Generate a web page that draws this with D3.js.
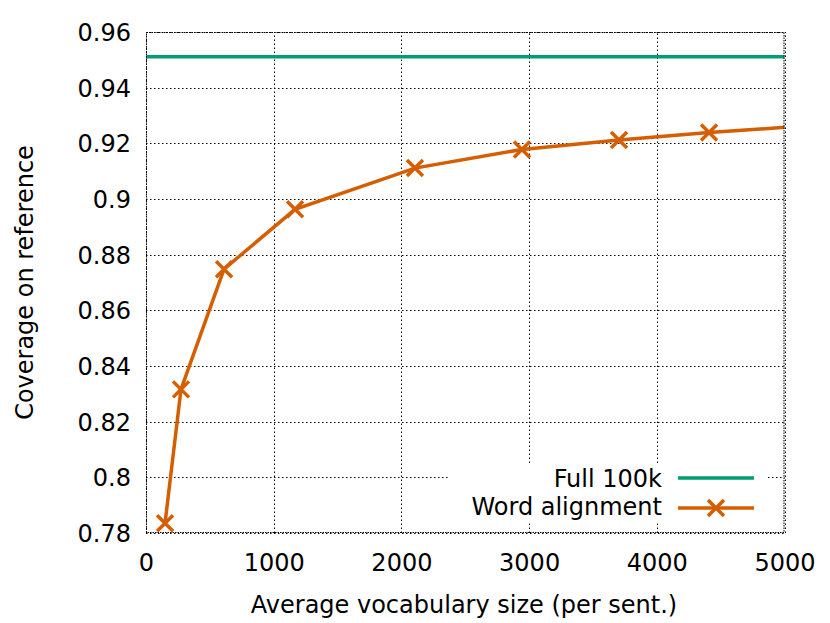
<!DOCTYPE html>
<html><head><meta charset="utf-8">
<script src="https://cdn.jsdelivr.net/npm/d3@7"></script>
<style>body{margin:0;background:#fff}svg{display:block}text{font-family:"DejaVu Sans",sans-serif;fill:#000}</style>
</head><body><div id="chart"></div>
<script>
const vocabSize = [149, 274, 611, 1167, 2106, 2944, 3704, 4409, 5150];
const coverage  = [0.7835, 0.8316, 0.8748, 0.8963, 0.9111, 0.9178, 0.9212, 0.9239, 0.9262];
const fullCoverage = 0.9511;
const xTicks = [0, 1000, 2000, 3000, 4000, 5000];
const yTicks = [0.78, 0.80, 0.82, 0.84, 0.86, 0.88, 0.90, 0.92, 0.94, 0.96];
const seriesNames = ["Full 100k", "Word alignment"];
const colors = ["#009e73", "#d55e00"];

const W = 830, H = 623, FS = 24, LW = 3.5, MK = 8;
const m = {l: 146, r: 830-784.5, t: 32, b: 623-533};
const svg = d3.select("#chart").append("svg").attr("width", W).attr("height", H);
const x = d3.scaleLinear().domain([0, 5000]).range([m.l, W - m.r]);
const y = d3.scaleLinear().domain([0.78, 0.96]).range([H - m.b, m.t]);

svg.append("defs").append("clipPath").attr("id","clip").append("rect")
  .attr("x", x(0)).attr("y", y(0.96)).attr("width", x(5000)-x(0)).attr("height", y(0.78)-y(0.96));

const grid = svg.append("g").attr("stroke","#000").attr("stroke-width",1).attr("stroke-dasharray","1.5,2.5");
const lb = {x0: 450, x1: 768, y0: 463, y1: 522};
xTicks.forEach(t => {
  const xx = Math.round(x(t)) + 0.5;
  if (xx > lb.x0 && xx < lb.x1) {
    grid.append("line").attr("x1",xx).attr("x2",xx).attr("y1",y(0.78)).attr("y2",lb.y1);
    grid.append("line").attr("x1",xx).attr("x2",xx).attr("y1",lb.y0).attr("y2",y(0.96));
  } else grid.append("line").attr("x1",xx).attr("x2",xx).attr("y1",y(0.78)).attr("y2",y(0.96));
});
yTicks.forEach(t => {
  const yy = Math.round(y(t)) + 0.5;
  if (yy > lb.y0 && yy < lb.y1) {
    grid.append("line").attr("x1",x(0)).attr("x2",lb.x0).attr("y1",yy).attr("y2",yy);
    grid.append("line").attr("x1",lb.x1).attr("x2",x(5000)).attr("y1",yy).attr("y2",yy);
  } else grid.append("line").attr("x1",x(0)).attr("x2",x(5000)).attr("y1",yy).attr("y2",yy);
});

// axes
const xAxis = svg.append("g").attr("transform",`translate(0,${y(0.78)})`)
  .call(d3.axisBottom(x).tickValues(xTicks).tickSize(0).tickPadding(0).tickFormat(d3.format("d")));
xAxis.selectAll("text").attr("y", 37.5).attr("dy", null);
const yAxis = svg.append("g").attr("transform",`translate(${x(0)},0)`)
  .call(d3.axisLeft(y).tickValues(yTicks).tickSize(0).tickPadding(15).tickFormat(d => d3.format("")(+d.toFixed(2))));
yAxis.selectAll("text").attr("dy","0.35em");
[xAxis, yAxis].forEach(a => { a.select(".domain").remove(); a.selectAll("text").attr("font-size",FS).attr("font-family","DejaVu Sans"); });

// full 100k line
svg.append("line").attr("x1",x(0)).attr("x2",x(5000)).attr("y1",y(fullCoverage)).attr("y2",y(fullCoverage))
  .attr("stroke",colors[0]).attr("stroke-width",LW);

// word alignment
const pts = vocabSize.map((v,i)=>[v, coverage[i]]);
const g = svg.append("g").attr("clip-path","url(#clip)");
g.append("path").datum(pts).attr("fill","none").attr("stroke",colors[1]).attr("stroke-width",LW)
  .attr("d", d3.line().x(d=>x(d[0])).y(d=>y(d[1])));
const cross = (sel, cx, cy) => sel.append("path")
  .attr("d", `M${cx-MK},${cy-MK}L${cx+MK},${cy+MK}M${cx-MK},${cy+MK}L${cx+MK},${cy-MK}`)
  .attr("stroke",colors[1]).attr("stroke-width",LW);
pts.filter(d => d[0] <= 5000).forEach(d => cross(svg, x(d[0]), y(d[1])));

// border
svg.append("rect").attr("x",x(0)+0.5).attr("y",y(0.96)+0.5).attr("width",x(5000)-x(0)-1).attr("height",y(0.78)-y(0.96)-1)
  .attr("fill","none").attr("stroke","#000").attr("stroke-width",1).attr("stroke-dasharray","1.5,1");

// legend
const leg = svg.append("g");
[0,1].forEach(i => {
  const base = 486.7 + i*28.3;
  const cy = 478 + i*30;
  leg.append("text").attr("x",662).attr("y",base).attr("text-anchor","end").attr("font-size",FS).text(seriesNames[i]);
  leg.append("line").attr("x1",678).attr("x2",754).attr("y1",cy).attr("y2",cy).attr("stroke",colors[i]).attr("stroke-width",LW);
});
cross(leg, 716, 508);

// axis labels
svg.append("text").attr("x",464).attr("y",612.5).attr("text-anchor","middle").attr("font-size",FS).text("Average vocabulary size (per sent.)");
svg.append("text").attr("transform","translate(33,282.5) rotate(-90)").attr("text-anchor","middle").attr("font-size",FS).text("Coverage on reference");
</script></body></html>
